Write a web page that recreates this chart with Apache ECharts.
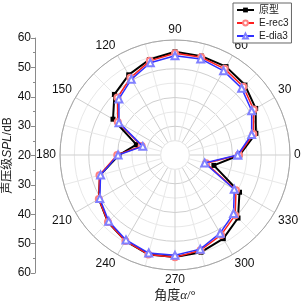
<!DOCTYPE html>
<html><head><meta charset="utf-8">
<script src="https://cdn.jsdelivr.net/npm/echarts@6/dist/echarts.min.js"></script>
<style>html,body{margin:0;padding:0;background:#fff}#c{width:303px;height:304px}</style>
</head><body><div id="c"></div>
<script>
var angles = [0,15,30,45,60,75,90,105,120,135,150,165,180,195,210,225,240,255,270,285,300,315,330,345];
var proto = [42.5,49.1,52.4,54.4,55.5,55.6,55.9,54.4,52.2,49.8,44.9,33.9,39.5,47.0,50.6,53.0,54.5,55.8,55.5,55.0,53.6,51.0,45.9,34.0];
var erec3 = [42.2,48.2,51.6,53.6,54.6,55.2,55.4,53.9,51.0,48.3,43.0,32.0,40.1,47.2,50.6,53.0,54.5,55.8,55.6,54.3,52.1,49.6,44.5,31.2];
var edia3 = [41.8,47.6,50.8,52.8,53.8,54.6,54.5,53.2,50.4,47.6,42.5,31.6,39.8,46.8,50.2,52.6,54.1,55.3,54.9,53.9,51.4,48.8,43.8,30.7];
var seriesNames = ['原型','E-rec3','E-dia3'];
var radialTicks = [20,30,40,50,60];
var angleTicks = [0,30,60,90,120,150,180,210,240,270,300,330];

function closed(vals){
  var d = vals.map(function(v,i){return [v, angles[i]];});
  d.push([vals[0], 360]);
  return d;
}
var rMin = radialTicks[0], rMax = radialTicks[radialTicks.length-1];
var span = rMax - rMin;
var CX = 175, CY = 155, R = 115;

var chart = echarts.init(document.getElementById('c'), null, {renderer:'canvas'});
chart.setOption({
  animation:false,
  backgroundColor:'#fff',
  polar:{center:[CX,CY], radius:R},
  angleAxis:{
    type:'value', min:0, max:360, interval:30, startAngle:0, clockwise:false,
    axisLine:{show:true, lineStyle:{color:'#a8a8a8', width:1}},
    axisTick:{show:false},
    axisLabel:{margin:4, color:'#111', fontSize:12, fontFamily:'Liberation Sans, Arial',
      formatter:function(v){return angleTicks.indexOf(v)>=0 ? String(v) : '';}},
    splitLine:{show:true, lineStyle:{color:'#cfcfcf', width:1}},
    minorTick:{show:false, splitNumber:2},
    minorSplitLine:{show:true, lineStyle:{color:'#e8e8e8', width:1}}
  },
  radiusAxis:{
    type:'value', min:rMin, max:rMax, interval:10,
    axisLine:{show:false}, axisTick:{show:false}, axisLabel:{show:false},
    splitLine:{show:true, lineStyle:{color:'#cfcfcf', width:1}},
    minorTick:{show:false, splitNumber:2},
    minorSplitLine:{show:true, lineStyle:{color:'#e8e8e8', width:1}}
  },
  grid:{left:35, top:38, width:1, height:235, containLabel:false, outerBoundsMode:'none'},
  xAxis:{type:'value', show:false, min:0, max:1},
  yAxis:{
    type:'value', min:-span, max:span, interval:10, position:'left',
    axisLine:{show:true, onZero:false, lineStyle:{color:'#8a8a8a'}},
    axisTick:{show:true, inside:false, length:4, lineStyle:{color:'#8a8a8a'}},
    minorTick:{show:true, splitNumber:2, length:2, lineStyle:{color:'#8a8a8a'}},
    splitLine:{show:false},
    axisLabel:{inside:false, margin:4, color:'#111', fontSize:12, fontFamily:'Liberation Sans, Arial',
      formatter:function(v){return String(Math.abs(v)+rMin);}},
    name:'声压级{i|SPL}/dB', nameLocation:'middle', nameGap:20,
    nameTextStyle:{color:'#222', fontSize:12, fontFamily:'Liberation Sans, Noto Sans CJK SC',
      rich:{i:{fontStyle:'italic', fontSize:12, color:'#222', fontFamily:'Liberation Sans'}}}
  },
  legend:{
    orient:'vertical', left:233, top:3, itemWidth:17, itemHeight:6, itemGap:3,
    padding:[2,3,2,3], borderColor:'#666', borderWidth:1, backgroundColor:'#fff', borderRadius:0,
    textStyle:{fontSize:10, color:'#222', fontFamily:'Liberation Sans, Noto Sans CJK SC'},
    data:seriesNames
  },
  graphic:[{
    type:'circle', z:1, silent:true,
    shape:{cx:CX, cy:CY, r:R*5/span},
    style:{fill:'#fff', stroke:'#e8e8e8', lineWidth:1}
  },{
    type:'text', x:CX, y:296,
    style:{text:'角度{i|α}/°', align:'center', verticalAlign:'middle', textAlign:'center', textVerticalAlign:'middle',
      fontSize:13, fill:'#222', fontFamily:'Liberation Serif, Noto Sans CJK SC',
      rich:{i:{fontStyle:'italic', fontSize:13, fontFamily:'Liberation Serif'}}}
  }],
  series:[
    {name:seriesNames[0], type:'line', coordinateSystem:'polar', data:closed(proto),
     symbol:'rect', symbolSize:5, lineStyle:{color:'#000', width:2, type:'solid'}, itemStyle:{color:'#000'}, z:3},
    {name:seriesNames[1], type:'line', coordinateSystem:'polar', data:closed(erec3),
     symbol:'emptyCircle', symbolSize:6, lineStyle:{color:'#ff2020', width:1.5, type:'solid'},
     itemStyle:{color:'#ff8080', borderWidth:1}, z:4},
    {name:seriesNames[2], type:'line', coordinateSystem:'polar', data:closed(edia3),
     symbol:'emptyTriangle', symbolSize:7, lineStyle:{color:'#3030ff', width:1.5, type:'solid'},
     itemStyle:{color:'#8080ff', borderWidth:1}, z:5}
  ]
});
</script></body></html>
